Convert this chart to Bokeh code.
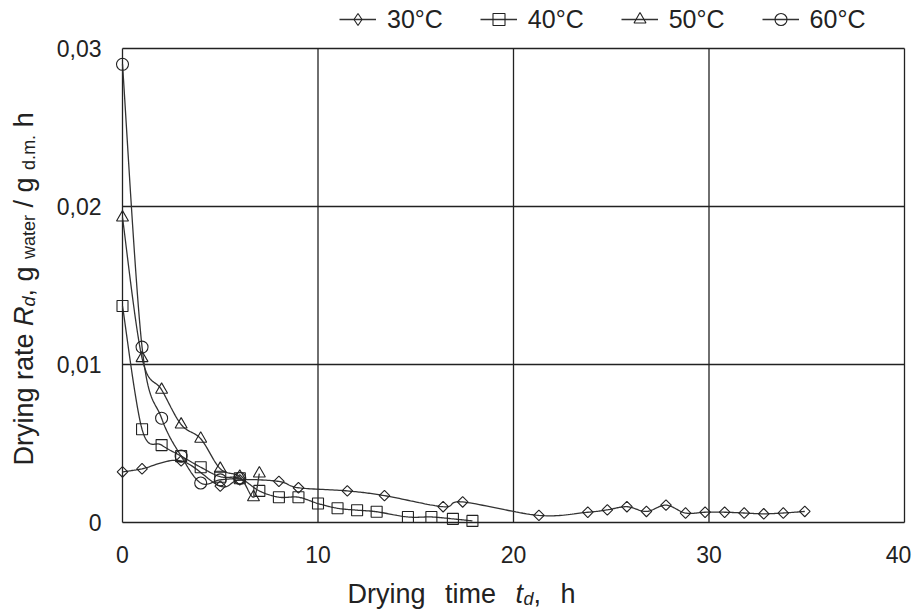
import numpy as np
from bokeh.plotting import figure
from bokeh.models import Range1d, Label, Legend, LegendItem
from bokeh.core.properties import value
from bokeh.embed import file_html
from bokeh.resources import INLINE

# ---------------- data ----------------
t30 = [0, 1, 3, 5, 6, 8, 9, 11.5, 13.4, 16.4, 17.4, 21.3, 23.8, 24.8, 25.8,
       26.8, 27.8, 28.8, 29.8, 30.8, 31.8, 32.8, 33.8, 34.9]
r30 = [0.0032, 0.0034, 0.0039, 0.0023, 0.0027, 0.0026, 0.0022, 0.0020, 0.0017,
       0.0010, 0.0013, 0.00045, 0.00065, 0.0008, 0.0010, 0.0007, 0.0011,
       0.0006, 0.00065, 0.00065, 0.0006, 0.00055, 0.0006, 0.0007]

t40 = [0, 1, 2, 3, 4, 5, 6, 7, 8, 9, 10, 11, 12, 13, 14.6, 15.8, 16.9, 17.9]
r40 = [0.0137, 0.0059, 0.0049, 0.0042, 0.0035, 0.0029, 0.0028, 0.0020, 0.0016,
       0.0016, 0.0012, 0.0009, 0.00078, 0.00068, 0.00035, 0.00035, 0.00023,
       0.0001]

t50 = [0, 1, 2, 3, 4, 5, 6, 6.7, 7]
r50 = [0.0193, 0.0104, 0.0084, 0.0062, 0.0053, 0.0034, 0.0029, 0.0016, 0.0031]

t60 = [0, 1, 2, 3, 4, 5, 6]
r60 = [0.0290, 0.0111, 0.0066, 0.0042, 0.0025, 0.0027, 0.0028]

series_labels = ["30°C", "40°C", "50°C", "60°C"]
x_ticks = [0, 10, 20, 30, 40]
y_ticks = [0, 0.01, 0.02, 0.03]
x_tick_labels = [str(t) for t in x_ticks]
y_tick_labels = ["0" if v == 0 else f"{v:.2f}".replace(".", ",") for v in y_ticks]


def smooth(xs, ys, n=24):
    """Excel-like smoothed line (Catmull-Rom / Bezier) through the points."""
    P = np.column_stack([xs, ys]).astype(float)
    out = [P[0]]
    for i in range(len(P) - 1):
        p0 = P[i - 1] if i > 0 else P[i]
        p1, p2 = P[i], P[i + 1]
        p3 = P[i + 2] if i + 2 < len(P) else P[i + 1]
        c1 = p1 + (p2 - p0) / 6.0
        c2 = p2 - (p3 - p1) / 6.0
        tt = np.linspace(0, 1, n)[1:, None]
        seg = ((1 - tt) ** 3) * p1 + 3 * ((1 - tt) ** 2) * tt * c1 \
            + 3 * (1 - tt) * tt ** 2 * c2 + tt ** 3 * p2
        out.extend(seg)
    out = np.array(out)
    return out[:, 0], out[:, 1]


# ---------------- layout (pixels) ----------------
W, H = 914, 615
ML, MR, MT, MB = 122, 10, 48, 93          # margins of the data area
XMIN, XMAX = x_ticks[0], x_ticks[-1]
YMIN, YMAX = y_ticks[0], y_ticks[-1]
kx = (W - ML - MR) / (XMAX - XMIN)          # px per x unit
ky = (H - MT - MB) / (YMAX - YMIN)          # px per y unit

FONT = "Liberation Sans"
INK = "#222222"
LINE = "#333333"

# the frame covers the whole canvas so that outside texts are not clipped
p = figure(width=W, height=H,
           x_range=Range1d(XMIN - ML / kx, XMAX + MR / kx),
           y_range=Range1d(YMIN - MB / ky, YMAX + MT / ky),
           output_backend="svg", toolbar_location=None,
           min_border=0, min_border_left=0, min_border_right=0,
           min_border_top=0, min_border_bottom=0)
p.axis.visible = False
p.grid.visible = False
p.outline_line_color = None
p.background_fill_color = "white"
p.border_fill_color = "white"

# grid + box (from the tick arrays)
p.segment(x0=x_ticks, x1=x_ticks, y0=[YMIN] * len(x_ticks), y1=[YMAX] * len(x_ticks),
          line_color=INK, line_width=1.3)
p.segment(x0=[XMIN] * len(y_ticks), x1=[XMAX] * len(y_ticks), y0=y_ticks, y1=y_ticks,
          line_color=INK, line_width=1.3)

# tick labels (the last x label is nudged so that it stays inside the page)
x_lab_shift = [-6 if t == XMAX else 0 for t in x_ticks]
p.text(x=x_ticks, y=[YMIN] * len(x_ticks), text=x_tick_labels,
       text_font=value(FONT), text_font_size=value("23px"), text_color=INK,
       text_align="center", text_baseline="top", y_offset=23, x_offset=x_lab_shift)
p.text(x=[XMIN] * len(y_ticks), y=y_ticks, text=y_tick_labels,
       text_font=value(FONT), text_font_size=value("23px"), text_color=INK,
       text_align="right", text_baseline="middle", x_offset=-21)

# (marker, size, angle) for the plot, (marker, size) for the legend sample
series = [(t30, r30, "square", 7.5, np.pi / 4, "diamond", 12),
          (t40, r40, "square", 11, 0, "square", 11),
          (t50, r50, "triangle", 12, 0, "triangle", 12),
          (t60, r60, "circle", 12, 0, "circle", 12)]

items = []
for (tx, ry, marker, size, ang, lmarker, lsize), lab in zip(series, series_labels):
    sx, sy = smooth(tx, ry)
    lr = p.line(sx, sy, line_color=LINE, line_width=1.3)
    p.scatter(tx, ry, marker=marker, size=size, angle=ang,
              fill_color=None, line_color=INK, line_width=1.1)
    # legend sample only (no points of its own)
    kr = p.scatter([np.nan], [np.nan], marker=lmarker, size=lsize,
                   fill_color=None, line_color=INK, line_width=1.1)
    items.append(LegendItem(label=lab, renderers=[lr, kr]))

legend = Legend(items=items, orientation="horizontal", location=(339, H - 34),
                label_text_font=FONT, label_text_font_size="25px",
                label_text_color=INK, glyph_width=37, glyph_height=30,
                label_standoff=11, spacing=37, padding=0, margin=0,
                border_line_color=None, background_fill_alpha=0)
p.add_layout(legend)

# ---------------- axis titles built from pieces ----------------
FL = 27   # main title font px
FS = 18   # subscript font px


def lab(text, x, y, size, italic=False, angle=0.0):
    # screen units: from the frame's (= canvas) bottom-left corner
    return Label(x=x, y=y, x_units="screen", y_units="screen", text=text,
                 text_font=FONT, text_font_size=f"{size}px",
                 text_font_style="italic" if italic else "normal",
                 text_color=INK, text_align="left", text_baseline="alphabetic",
                 angle=angle)


# x title: starting at canvas x=347, words spread to end near x=578
bx, by = 347, H - 593
GAP = 0.72   # width of the double spaces, em
o = 0.0
x_pieces = []
x_pieces.append(("Drying", o, FL, False, 0)); o += (2.889 + GAP) * FL
x_pieces.append(("time", o, FL, False, 0)); o += (1.889 + GAP) * FL
x_pieces.append(("t", o, FL, True, 0)); o += 0.30 * FL
x_pieces.append(("d", o, FS, True, -5)); o += 0.556 * FS
x_pieces.append((",", o, FL, False, 0)); o += (0.278 + GAP) * FL
x_pieces.append(("h", o, FL, False, 0))
for txt, off, sz, it, dy in x_pieces:
    p.add_layout(lab(txt, bx + off, by + dy, sz, it))

# y title: rotated, reading upwards from canvas y=465
yx, yy = 23, H - 465
o = 0.0
y_pieces = []
y_pieces.append(("Drying", o, FL, False, 0)); o += (2.889 + 0.278) * FL
y_pieces.append(("rate", o, FL, False, 0)); o += (1.723 + 0.278) * FL
y_pieces.append(("R", o, FL, True, 0)); o += 0.722 * FL
y_pieces.append(("d", o, FS, True, 5)); o += 0.556 * FS
y_pieces.append((",", o, FL, False, 0)); o += 0.556 * FL
y_pieces.append(("g", o, FL, False, 0)); o += 0.834 * FL
y_pieces.append(("water", o, FS, False, 5)); o += 2.445 * FS + 0.278 * FL
y_pieces.append(("/", o, FL, False, 0)); o += 0.556 * FL
y_pieces.append(("g", o, FL, False, 0)); o += 0.834 * FL
y_pieces.append(("d.m.", o, FS, False, 5)); o += 1.945 * FS + 0.278 * FL
y_pieces.append(("h", o, FL, False, 0))
for txt, off, sz, it, dx in y_pieces:
    p.add_layout(lab(txt, yx + dx, yy + off, sz, it, angle=np.pi / 2))

open("out.html", "w").write(file_html(p, INLINE))
